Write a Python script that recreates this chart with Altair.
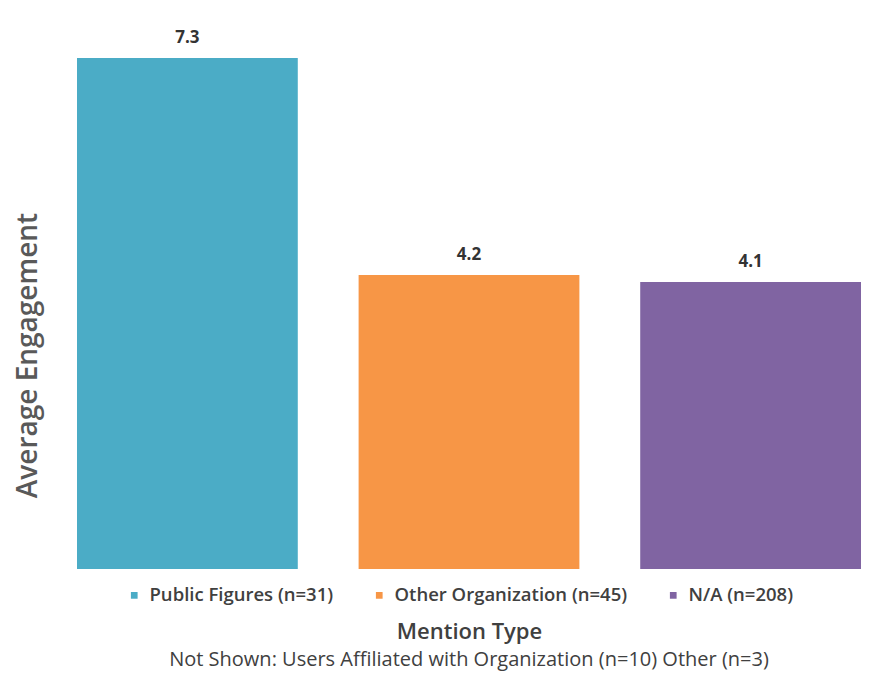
import altair as alt
import pandas as pd

categories = ["Public Figures (n=31)", "Other Organization (n=45)", "N/A (n=208)"]
values = [7.3, 4.2, 4.1]
labels = ["7.3", "4.2", "4.1"]
colors = ["#4BACC6", "#F79646", "#8064A2"]
footnote = "Not Shown: Users Affiliated with Organization (n=10) Other (n=3)"

df = pd.DataFrame({"category": categories, "value": values, "label": labels})

FONT = "Open Sans"
W = 784
H = 560

base = alt.Chart(df).encode(
    x=alt.X(
        "category:N",
        sort=categories,
        scale=alt.Scale(paddingInner=0.216, paddingOuter=0),
        axis=alt.Axis(
            labels=False, ticks=False, domain=False, grid=False,
            title="Mention Type", titleX=W / 2, titleY=62,
            titleAlign="center", titleBaseline="middle",
            titleFont=FONT, titleFontSize=22, titleFontWeight=600,
            titleColor="#404040",
        ),
    ),
    y=alt.Y(
        "value:Q",
        scale=alt.Scale(domain=[0, 8], nice=False),
        axis=alt.Axis(
            labels=False, ticks=False, domain=False, grid=False,
            title="Average Engagement", titleX=-49, titleY=346,
            titleAngle=-90, titleAlign="center", titleBaseline="middle",
            titleFont=FONT, titleFontSize=28, titleFontWeight=600,
            titleColor="#595959",
        ),
    ),
)

bars = base.mark_bar().encode(
    color=alt.Color(
        "category:N",
        scale=alt.Scale(domain=categories, range=colors),
        legend=alt.Legend(
            orient="none", legendX=48, legendY=577, direction="horizontal",
            title=None, symbolType="square", symbolSize=45, symbolStrokeWidth=0,
            labelFont=FONT, labelFontSize=18.5, labelFontWeight=600,
            labelColor="#404040", columnPadding=36, labelOffset=6, labelLimit=0,
        ),
    )
)

text = base.mark_text(
    dy=-11, baseline="bottom", font=FONT, fontSize=17, fontWeight="bold", color="#333333"
).encode(text="label:N")

chart = (
    (bars + text)
    .properties(
        width=W,
        height=H,
        autosize=alt.AutoSizeParams(type="none"),
        padding={"left": 69, "top": 1, "right": 0, "bottom": 103},
        background="white",
        title=alt.TitleParams(
            text=footnote, orient="bottom", anchor="middle", offset=8,
            font=FONT, fontSize=20, fontWeight="normal", color="#404040",
        ),
    )
    .configure_view(stroke="transparent", strokeWidth=0)
)

chart.save("out.html", embed_options={"renderer": "svg", "actions": False})
